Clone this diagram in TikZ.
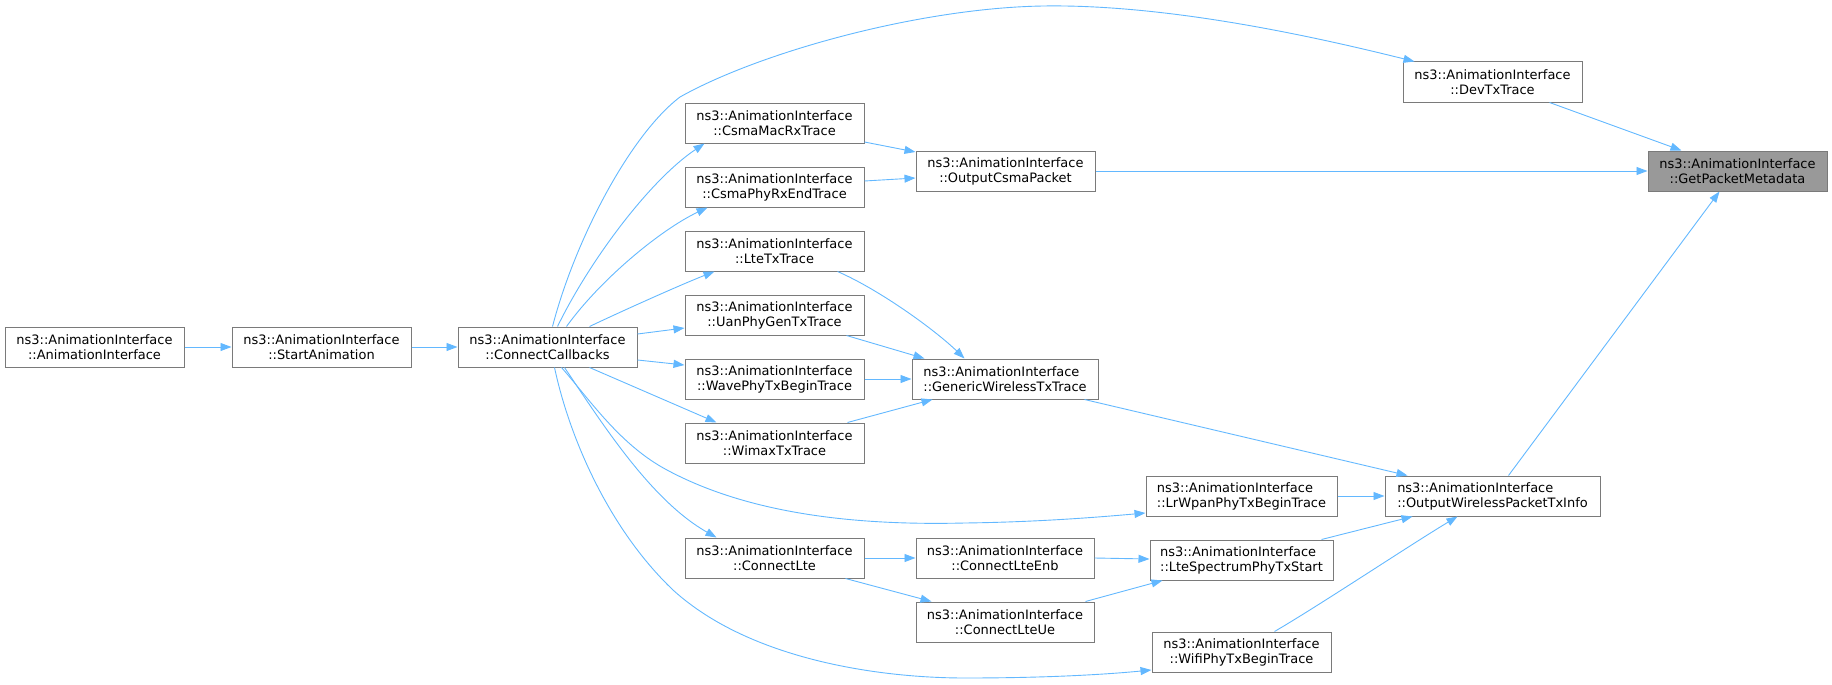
\documentclass[tikz,border=0pt]{standalone}
\usepackage{fontspec}
\setmainfont{DejaVu Sans}
\usetikzlibrary{arrows.meta}

\definecolor{edgeblue}{HTML}{63B8FF}
\definecolor{boxgray}{HTML}{7A7A7A}
\definecolor{rootgray}{HTML}{999999}

\tikzstyle{func} = [draw=boxgray,line width=1pt,minimum height=40pt,inner sep=0pt,font=\fontsize{12.96}{15}\selectfont]
\tikzstyle{ctext} = [align=center]
\tikzstyle{ltext} = [align=left]
\tikzstyle{call} = [draw=edgeblue,line width=0.9pt,-{Triangle[length=11pt,width=8pt]}]

\begin{document}
\begin{tikzpicture}[x=1pt,y=-1pt]
    \useasboundingbox (0,0) rectangle (1832,685);

    \foreach \nodename/\x/\y/\boxw/\al/\fillc/\fname in {
      ai/94.5/347/179/ctext/white/AnimationInterface,
      sa/321.5/347/179/ctext/white/StartAnimation,
      cc/547.5/347/179/ctext/white/ConnectCallbacks,
      cmr/774.5/123/179/ctext/white/CsmaMacRxTrace,
      cpr/774.5/187/179/ctext/white/CsmaPhyRxEndTrace,
      ltt/774.5/251/179/ctext/white/LteTxTrace,
      uan/774.5/315/179/ctext/white/UanPhyGenTxTrace,
      wave/774.5/379/179/ctext/white/WavePhyTxBeginTrace,
      wimax/774.5/443/179/ctext/white/WimaxTxTrace,
      clte/774.5/558/179/ctext/white/ConnectLte,
      ocp/1005.5/171/179/ctext/white/OutputCsmaPacket,
      gwt/1005/379/186/ltext/white/GenericWirelessTxTrace,
      enb/1005/558/178/ctext/white/ConnectLteEnb,
      ue/1005/622/178/ctext/white/ConnectLteUe,
      lrw/1241.5/496/191/ltext/white/LrWpanPhyTxBeginTrace,
      lsp/1241.5/560/183/ltext/white/LteSpectrumPhyTxStart,
      wifi/1241.5/652/179/ctext/white/WifiPhyTxBeginTrace,
      dev/1492.5/82/179/ctext/white/DevTxTrace,
      owp/1492.5/496/215/ltext/white/OutputWirelessPacketTxInfo,
      gpm/1737.5/171/179/ctext/rootgray/GetPacketMetadata}
    {
      \node[func, \al, fill=\fillc, minimum width=\boxw pt] (\nodename) at (\x,\y) {ns3::AnimationInterface\\::\fname};
    }

    % straight calls
    \path
    \foreach \startnode/\sdx/\sdy/\endnode/\edx/\edy in {
      ai.east/0/0/sa.west/0/0, sa.east/0/0/cc.west/0/0,
      cc.east/0/13/uan.west/0/-13, cc.east/0/-13/wave.west/0/14,
      cc.south west/132/0/wimax.north west/32/0,
      cmr.east/0/-19/ocp.west/0/19, cpr.east/0/6/ocp.west/0/-7,
      ocp.east/0/0/gpm.west/0/0,
      dev.south west/147/0/gpm.north west/34/0,
      owp.north west/124/0/gpm.south west/72/0,
      uan.south west/162/0/gwt.north west/13/0,
      wave.east/0/0/gwt.west/0/0,
      wimax.north west/163/0/gwt.south west/21/0,
      gwt.south west/173/0/owp.north west/23/0,
      lrw.east/0/0/owp.west/0/0,
      clte.east/0/0/enb.west/0/0,
      clte.south west/161/0/ue.north west/16/0,
      enb.east/0/0/lsp.west/0/1,
      ue.north west/170/0/lsp.south west/13/0,
      lsp.north west/172/0/owp.south west/28/0}
    {
      ([xshift=\sdx pt,yshift=\sdy pt]\startnode) edge[call] ([xshift=\edx pt,yshift=\edy pt]\endnode)
    };

    % curved calls
    \draw[call] ([xshift=95pt]cc.north west) .. controls (575,240) and (630,135) .. (680,97)
      .. controls (760,52) and (920,8) .. (1043,6)
      .. controls (1170,4) and (1320,38) .. ([xshift=12pt]dev.north west);
    \draw[call] ([xshift=100pt]cc.north west) .. controls (590,260) and (650,180) .. ([xshift=20pt]cmr.south west);
    \draw[call] ([xshift=109pt]cc.north west) .. controls (600,280) and (660,230) .. ([xshift=23pt]cpr.south west);
    \draw[call] ([xshift=132pt]cc.north west) .. controls (620,312) and (680,285) .. ([xshift=30pt]ltt.south west);
    \draw[call] ([xshift=104pt]cc.south west) .. controls (590,400) and (620,445) .. (667,470)
      .. controls (760,520) and (880,525) .. (965,523)
      .. controls (1040,522) and (1100,517) .. ([yshift=-17pt]lrw.west);
    \draw[call] ([xshift=107pt]cc.south west) .. controls (600,420) and (650,500) .. ([xshift=32pt]clte.north west);
    \draw[call] ([xshift=97pt]cc.south west) .. controls (570,440) and (610,530) .. (673,590)
      .. controls (750,660) and (880,678) .. (965,678)
      .. controls (1040,678) and (1100,675) .. ([yshift=-18pt]wifi.west);
    \draw[call] ([xshift=153pt]ltt.south west) .. controls (880,290) and (935,330) .. ([xshift=53pt]gwt.north west);
    \draw[call] ([xshift=123pt]wifi.north west) .. controls (1320,605) and (1410,545) .. ([xshift=73pt]owp.south west);
\end{tikzpicture}
\end{document}
